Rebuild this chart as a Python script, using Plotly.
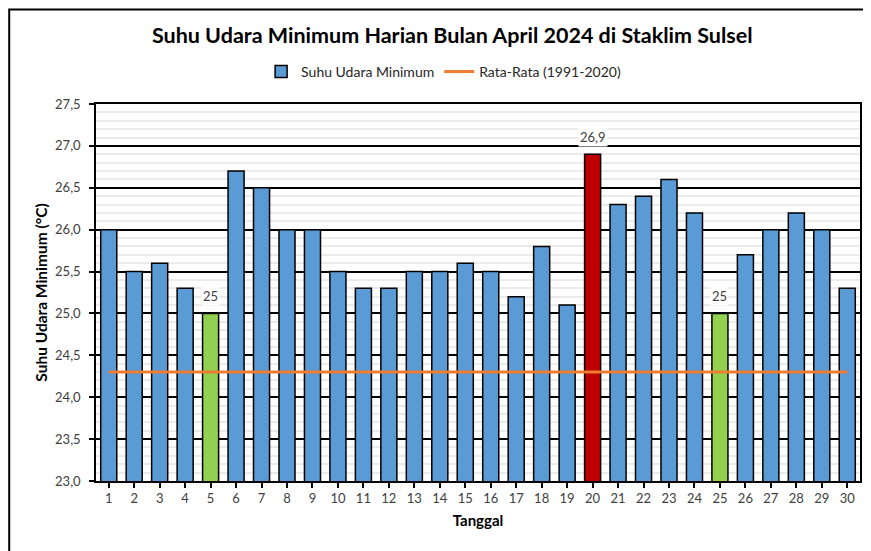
import plotly.graph_objects as go

# ---- data ----
tanggal = list(range(1, 31))
suhu_min = [26.0, 25.5, 25.6, 25.3, 25.0, 26.7, 26.5, 26.0, 26.0, 25.5,
            25.3, 25.3, 25.5, 25.5, 25.6, 25.5, 25.2, 25.8, 25.1, 26.9,
            26.3, 26.4, 26.6, 26.2, 25.0, 25.7, 26.0, 26.2, 26.0, 25.3]
rata_rata = [24.3] * 30
y_ticks = [23.0, 23.5, 24.0, 24.5, 25.0, 25.5, 26.0, 26.5, 27.0, 27.5]

BLUE = "#5B9BD5"
GREEN = "#92D050"
RED = "#C00000"
ORANGE = "#ED7D31"
FONT = "Lato"

vmin, vmax = min(suhu_min), max(suhu_min)
colors = [RED if v == vmax else GREEN if v == vmin else BLUE for v in suhu_min]

fig = go.Figure()
fig.add_trace(go.Bar(
    x=tanggal, y=suhu_min, name="Suhu Udara Minimum",
    marker=dict(color=colors, line=dict(color="black", width=1.5)),
    width=0.63,
))
fig.add_trace(go.Scatter(
    x=tanggal, y=rata_rata, name="Rata-Rata (1991-2020)", mode="lines",
    line=dict(color=ORANGE, width=3),
))

def fmt(v):
    return f"{v:g}".replace(".", ",")

for xv, yv in zip(tanggal, suhu_min):
    if yv == vmin or yv == vmax:
        fig.add_annotation(
            x=xv, y=yv, text=fmt(yv), showarrow=False, yanchor="bottom",
            yshift=7, bgcolor="white", font=dict(family=FONT, size=13, color="#404040"),
        )

# outer frame (only top/left visible)
fig.add_shape(type="rect", xref="paper", yref="paper",
              x0=-0.1136, x1=1.05, y0=-0.25, y1=1.2505,
              line=dict(color="black", width=2), fillcolor="rgba(0,0,0,0)", layer="below")

# page has an 8px body margin, so the figure is shrunk by 8px and margins shifted
fig.update_layout(
    width=863, height=543,
    margin=dict(l=88, r=9, t=96, b=70),
    paper_bgcolor="white", plot_bgcolor="white",
    separators=",.",
    title=dict(text="<b>Suhu Udara Minimum Harian Bulan April 2024 di Staklim Sulsel</b>",
               x=0.5148, xanchor="center", y=1 - 27 / 543, yanchor="middle",
               font=dict(family=FONT, size=21.5, color="black")),
    legend=dict(orientation="h", x=0.455, xanchor="center", y=1.085, yanchor="middle",
                font=dict(family=FONT, size=14, color="#262626"), bgcolor="rgba(0,0,0,0)"),
    font=dict(family=FONT, color="#404040"),
)
fig.update_xaxes(
    range=[0.5, 30.5], tickmode="array", tickvals=tanggal, ticktext=[str(t) for t in tanggal],
    showline=True, linecolor="black", linewidth=1.5, mirror=True,
    ticks="outside", ticklen=5, tickcolor="black", tickwidth=1.5,
    showgrid=False, zeroline=False,
    tickfont=dict(family=FONT, size=13, color="#404040"),
    title=dict(text="<b>Tanggal</b>", font=dict(family=FONT, size=15, color="black"), standoff=10),
)
fig.update_yaxes(
    range=[23.0, 27.5], tickmode="array", tickvals=y_ticks, tickformat=".1f",
    showline=True, linecolor="black", linewidth=1.5, mirror=True,
    ticks="outside", ticklen=5, tickcolor="black", tickwidth=1.5,
    showgrid=True, gridcolor="black", gridwidth=1.5, zeroline=False,
    minor=dict(dtick=0.1, showgrid=True, gridcolor="#EBEBEB", gridwidth=1.5),
    tickfont=dict(family=FONT, size=13, color="#404040"),
    ticklabelstandoff=6,
    title=dict(text="<b>Suhu Udara Minimum (°C)</b>", font=dict(family=FONT, size=15.5, color="black"), standoff=4),
)

fig.write_html("out.html")
